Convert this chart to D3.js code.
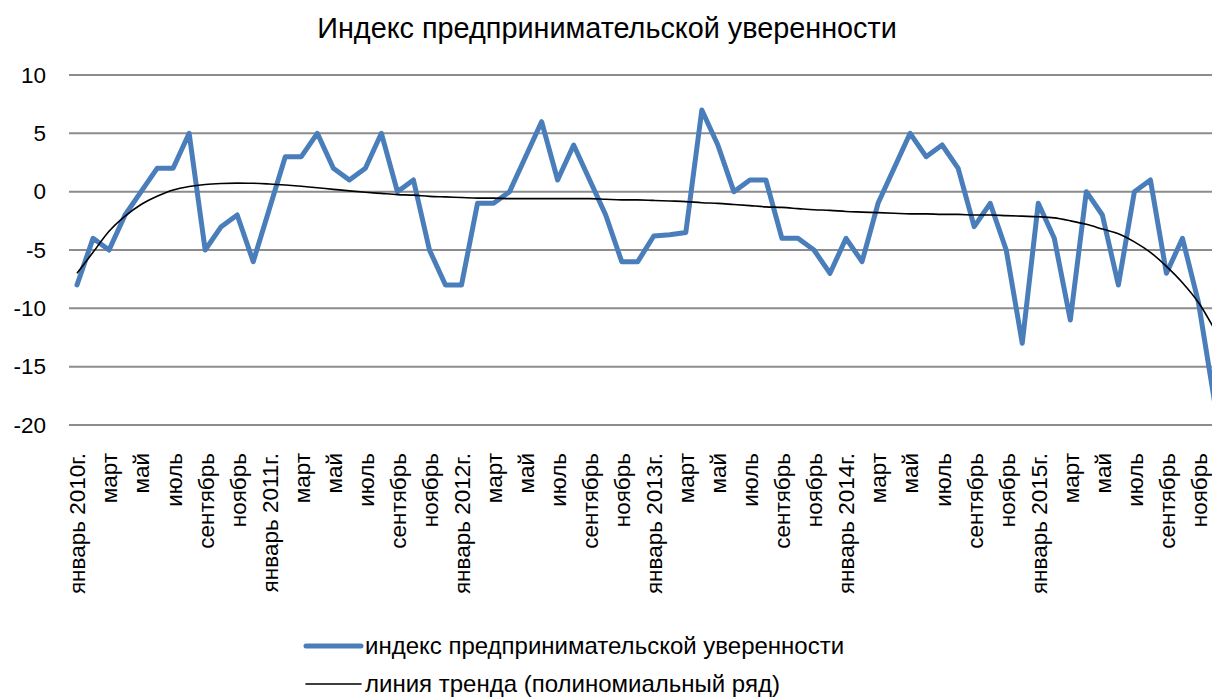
<!DOCTYPE html>
<html>
<head>
<meta charset="utf-8">
<script src="https://cdn.jsdelivr.net/npm/d3@7"></script>
<style>
  body { margin: 0; background: #fff; }
  svg { display: block; font-family: "Liberation Sans", Arial, sans-serif; }
</style>
</head>
<body>
<svg width="1212" height="698"></svg>
<script>
// months Jan 2010 .. Dec 2015
var monthNames = ["январь", "февраль", "март", "апрель", "май", "июнь",
                  "июль", "август", "сентябрь", "октябрь", "ноябрь", "декабрь"];
var years = [2010, 2011, 2012, 2013, 2014, 2015];

var categories = [];
years.forEach(function(y) {
    monthNames.forEach(function(m, i) {
        categories.push(i === 0 ? m + " " + y + "г." : m);
    });
});

// индекс предпринимательской уверенности
var indexValues = [
    -8, -4, -5, -2, 0, 2, 2, 5, -5, -3, -2, -6,
    -1.5, 3, 3, 5, 2, 1, 2, 5, 0, 1, -5, -8,
    -8, -1, -1, 0, 3, 6, 1, 4, 1, -2, -6, -6,
    -3.8, -3.7, -3.5, 7, 4, 0, 1, 1, -4, -4, -5, -7,
    -4, -6, -1, 2, 5, 3, 4, 2, -3, -1, -5, -13,
    -1, -4, -11, 0, -2, -8, 0, 1, -7, -4, -9.5, -18
];

// линия тренда
var trendValues = [
    -7.0, -5.2, -3.4, -2.1, -1.1, -0.4, 0.15, 0.45, 0.62, 0.7, 0.73, 0.72,
    0.66, 0.57, 0.46, 0.33, 0.2, 0.07, -0.05, -0.15, -0.25, -0.3, -0.4, -0.45,
    -0.5, -0.55, -0.55, -0.6, -0.6, -0.6, -0.6, -0.6, -0.6, -0.65, -0.7, -0.7,
    -0.75, -0.8, -0.85, -0.95, -1.0, -1.1, -1.2, -1.3, -1.35, -1.45, -1.55, -1.6,
    -1.7, -1.75, -1.8, -1.85, -1.9, -1.9, -1.95, -1.95, -2.0, -2.0, -2.05, -2.1,
    -2.15, -2.25, -2.5, -2.8, -3.2, -3.6, -4.3, -5.2, -6.4, -7.8, -9.5, -11.8
];

var yTicks = [-20, -15, -10, -5, 0, 5, 10];

var title = "Индекс предпринимательской уверенности";
var seriesNames = ["индекс предпринимательской уверенности",
                   "линия тренда (полиномиальный ряд)"];

var svg = d3.select("svg"),
    width = +svg.attr("width"),
    height = +svg.attr("height");

var x = d3.scalePoint()
    .domain(d3.range(categories.length))
    .range([77, 1214.5]);

var y = d3.scaleLinear()
    .domain([-20, 10])
    .range([425, 75]);

// title
svg.append("text")
    .attr("x", 607)
    .attr("y", 38)
    .attr("text-anchor", "middle")
    .style("font-size", "28.8px")
    .text(title);

// gridlines
svg.append("g")
    .selectAll("line")
    .data(yTicks)
    .enter().append("line")
    .attr("x1", 69)
    .attr("x2", width)
    .attr("y1", function(d) { return y(d); })
    .attr("y2", function(d) { return y(d); })
    .attr("stroke", "#8c8c8c")
    .attr("stroke-width", 2);

// y axis labels
var yAxis = svg.append("g")
    .attr("transform", "translate(46,0)")
    .call(d3.axisLeft(y).tickValues(yTicks).tickSize(0).tickPadding(0)
        .tickFormat(function(d) { return String(d); }));
yAxis.select(".domain").remove();
yAxis.selectAll("text")
    .attr("fill", "#000")
    .style("font-size", "22.5px")
    .style("font-family", "Liberation Sans, Arial, sans-serif");

// x axis labels, every second month
var xAxis = svg.append("g")
    .attr("transform", "translate(0,453)")
    .call(d3.axisBottom(x)
        .tickValues(d3.range(0, categories.length, 2))
        .tickFormat(function(i) { return categories[i]; })
        .tickSize(0));
xAxis.select(".domain").remove();
xAxis.selectAll("text")
    .attr("fill", "#000")
    .attr("transform", "rotate(-90)")
    .attr("text-anchor", "end")
    .attr("x", 0)
    .attr("y", 0)
    .attr("dy", "0.35em")
    .style("font-size", "22.5px")
    .style("font-family", "Liberation Sans, Arial, sans-serif");

// series
var line = d3.line()
    .x(function(d, i) { return x(i); })
    .y(function(d) { return y(d); });

svg.append("path")
    .datum(indexValues)
    .attr("d", line)
    .attr("fill", "none")
    .attr("stroke", "#4a7ebb")
    .attr("stroke-width", 5)
    .attr("stroke-linejoin", "round")
    .attr("stroke-linecap", "round");

svg.append("path")
    .datum(trendValues)
    .attr("d", line.curve(d3.curveMonotoneX))
    .attr("fill", "none")
    .attr("stroke", "#000")
    .attr("stroke-width", 1.6);

// legend
var legend = svg.append("g");
var legendItems = [
    { name: seriesNames[0], color: "#4a7ebb", w: 5, y: 646 },
    { name: seriesNames[1], color: "#000", w: 1.6, y: 684 }
];
legend.selectAll("line")
    .data(legendItems)
    .enter().append("line")
    .attr("x1", 306)
    .attr("x2", 361)
    .attr("y1", function(d) { return d.y; })
    .attr("y2", function(d) { return d.y; })
    .attr("stroke", function(d) { return d.color; })
    .attr("stroke-width", function(d) { return d.w; })
    .attr("stroke-linecap", "round");
legend.selectAll("text")
    .data(legendItems)
    .enter().append("text")
    .attr("x", 365)
    .attr("y", function(d) { return d.y; })
    .attr("dy", "0.35em")
    .style("font-size", "24px")
    .text(function(d) { return d.name; });
</script>
</body>
</html>
